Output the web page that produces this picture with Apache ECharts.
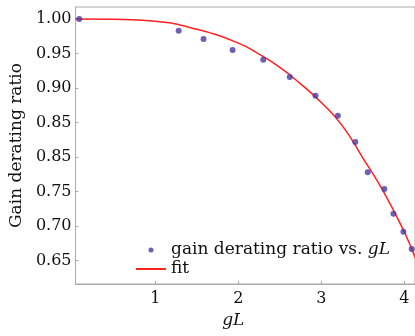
<!DOCTYPE html>
<html><head><meta charset="utf-8">
<script src="https://cdn.jsdelivr.net/npm/echarts@6/dist/echarts.min.js"></script>
<style>html,body{margin:0;padding:0;background:#fff}#c{width:415px;height:336px}</style>
</head><body><div id="c"></div>
<script>
const gL = [0.08, 1.28, 1.58, 1.93, 2.30, 2.62, 2.93, 3.20, 3.41, 3.56, 3.76, 3.87, 3.99, 4.09];
const ratio = [1.000, 0.983, 0.971, 0.955, 0.941, 0.916, 0.889, 0.860, 0.822, 0.778, 0.754, 0.718, 0.692, 0.667];
const fitX = [0.036, 0.5, 1.0, 1.5, 2.0, 2.25, 2.5, 2.75, 3.0, 3.25, 3.5, 3.75, 4.0, 4.14];
const fitY = [1.000, 0.9995, 0.9965, 0.985, 0.965, 0.949, 0.930, 0.906, 0.879, 0.846, 0.799, 0.750, 0.692, 0.652];
const yTicks = [0.65, 0.70, 0.75, 0.80, 0.85, 0.90, 0.95, 1.00];
const yTickLabels = ['0.65', '0.70', '0.75', '0.85', '0.85', '0.90', '0.95', '1.00'];
const xTicks = [1, 2, 3, 4];
const xTickLabels = ['1', '2', '3', '4'];

const serif = 'DejaVu Serif';
const gray = '#aaaaaa';
function lab(ticks, labels) {
  return v => { let b = 0; ticks.forEach((t, i) => { if (Math.abs(t - v) < Math.abs(ticks[b] - v)) b = i; }); return labels[b]; };
}
const chart = echarts.init(document.getElementById('c'), null, {renderer: 'canvas'});
chart.setOption({
  animation: false,
  backgroundColor: '#fff',
  grid: {left: 73, top: 7, right: -1, bottom: 52, show: true, borderColor: gray, borderWidth: 1},
  xAxis: {
    type: 'value', min: 0.036, max: 4.13,
    name: 'gL', nameLocation: 'middle', nameGap: 28,
    nameTextStyle: {fontFamily: serif, fontStyle: 'italic', fontSize: 17, color: '#111', padding: [0, 24, 0, 0]},
    axisLine: {show: true, lineStyle: {color: gray}},
    axisTick: {show: true, inside: true, length: 3, lineStyle: {color: gray}, customValues: xTicks},
    axisLabel: {customValues: xTicks, formatter: lab(xTicks, xTickLabels), fontFamily: serif, fontSize: 16, color: '#111', margin: 7},
    splitLine: {show: false}
  },
  yAxis: {
    type: 'value', min: 0.6163, max: 1.0173,
    name: 'Gain derating ratio', nameLocation: 'middle', nameGap: 45,
    nameTextStyle: {fontFamily: serif, fontSize: 17, color: '#111'},
    axisLine: {show: true, lineStyle: {color: gray}},
    axisTick: {show: true, inside: true, length: 3, lineStyle: {color: gray}, customValues: yTicks},
    axisLabel: {customValues: yTicks, formatter: lab(yTicks, yTickLabels), fontFamily: serif, fontSize: 16, color: '#111', margin: 4},
    splitLine: {show: false}
  },
  legend: {
    orient: 'vertical', left: 130, top: 236, itemWidth: 30, itemHeight: 5, itemGap: 1,
    data: [{name: 'scatter', icon: 'circle'}, {name: 'fit', itemStyle: {opacity: 0}}],
    formatter: n => n === 'scatter' ? 'gain derating ratio vs. {i|gL}' : 'fit',
    textStyle: {fontFamily: serif, fontSize: 17, color: '#111', lineHeight: 18,
      rich: {i: {fontFamily: serif, fontStyle: 'italic', fontSize: 17, color: '#111'}}}
  },
  series: [
    {name: 'fit', type: 'line', symbol: 'none', smooth: true, clip: true,
     data: fitX.map((x, i) => [x, fitY[i]]),
     lineStyle: {color: '#ff2020', width: 1.5}, itemStyle: {color: '#ff2020'}, z: 2},
    {name: 'scatter', type: 'scatter', symbolSize: 6, clip: false,
     data: gL.map((x, i) => [x, ratio[i]]),
     itemStyle: {color: '#4a38a0'}, z: 3}
  ]
});
</script></body></html>
